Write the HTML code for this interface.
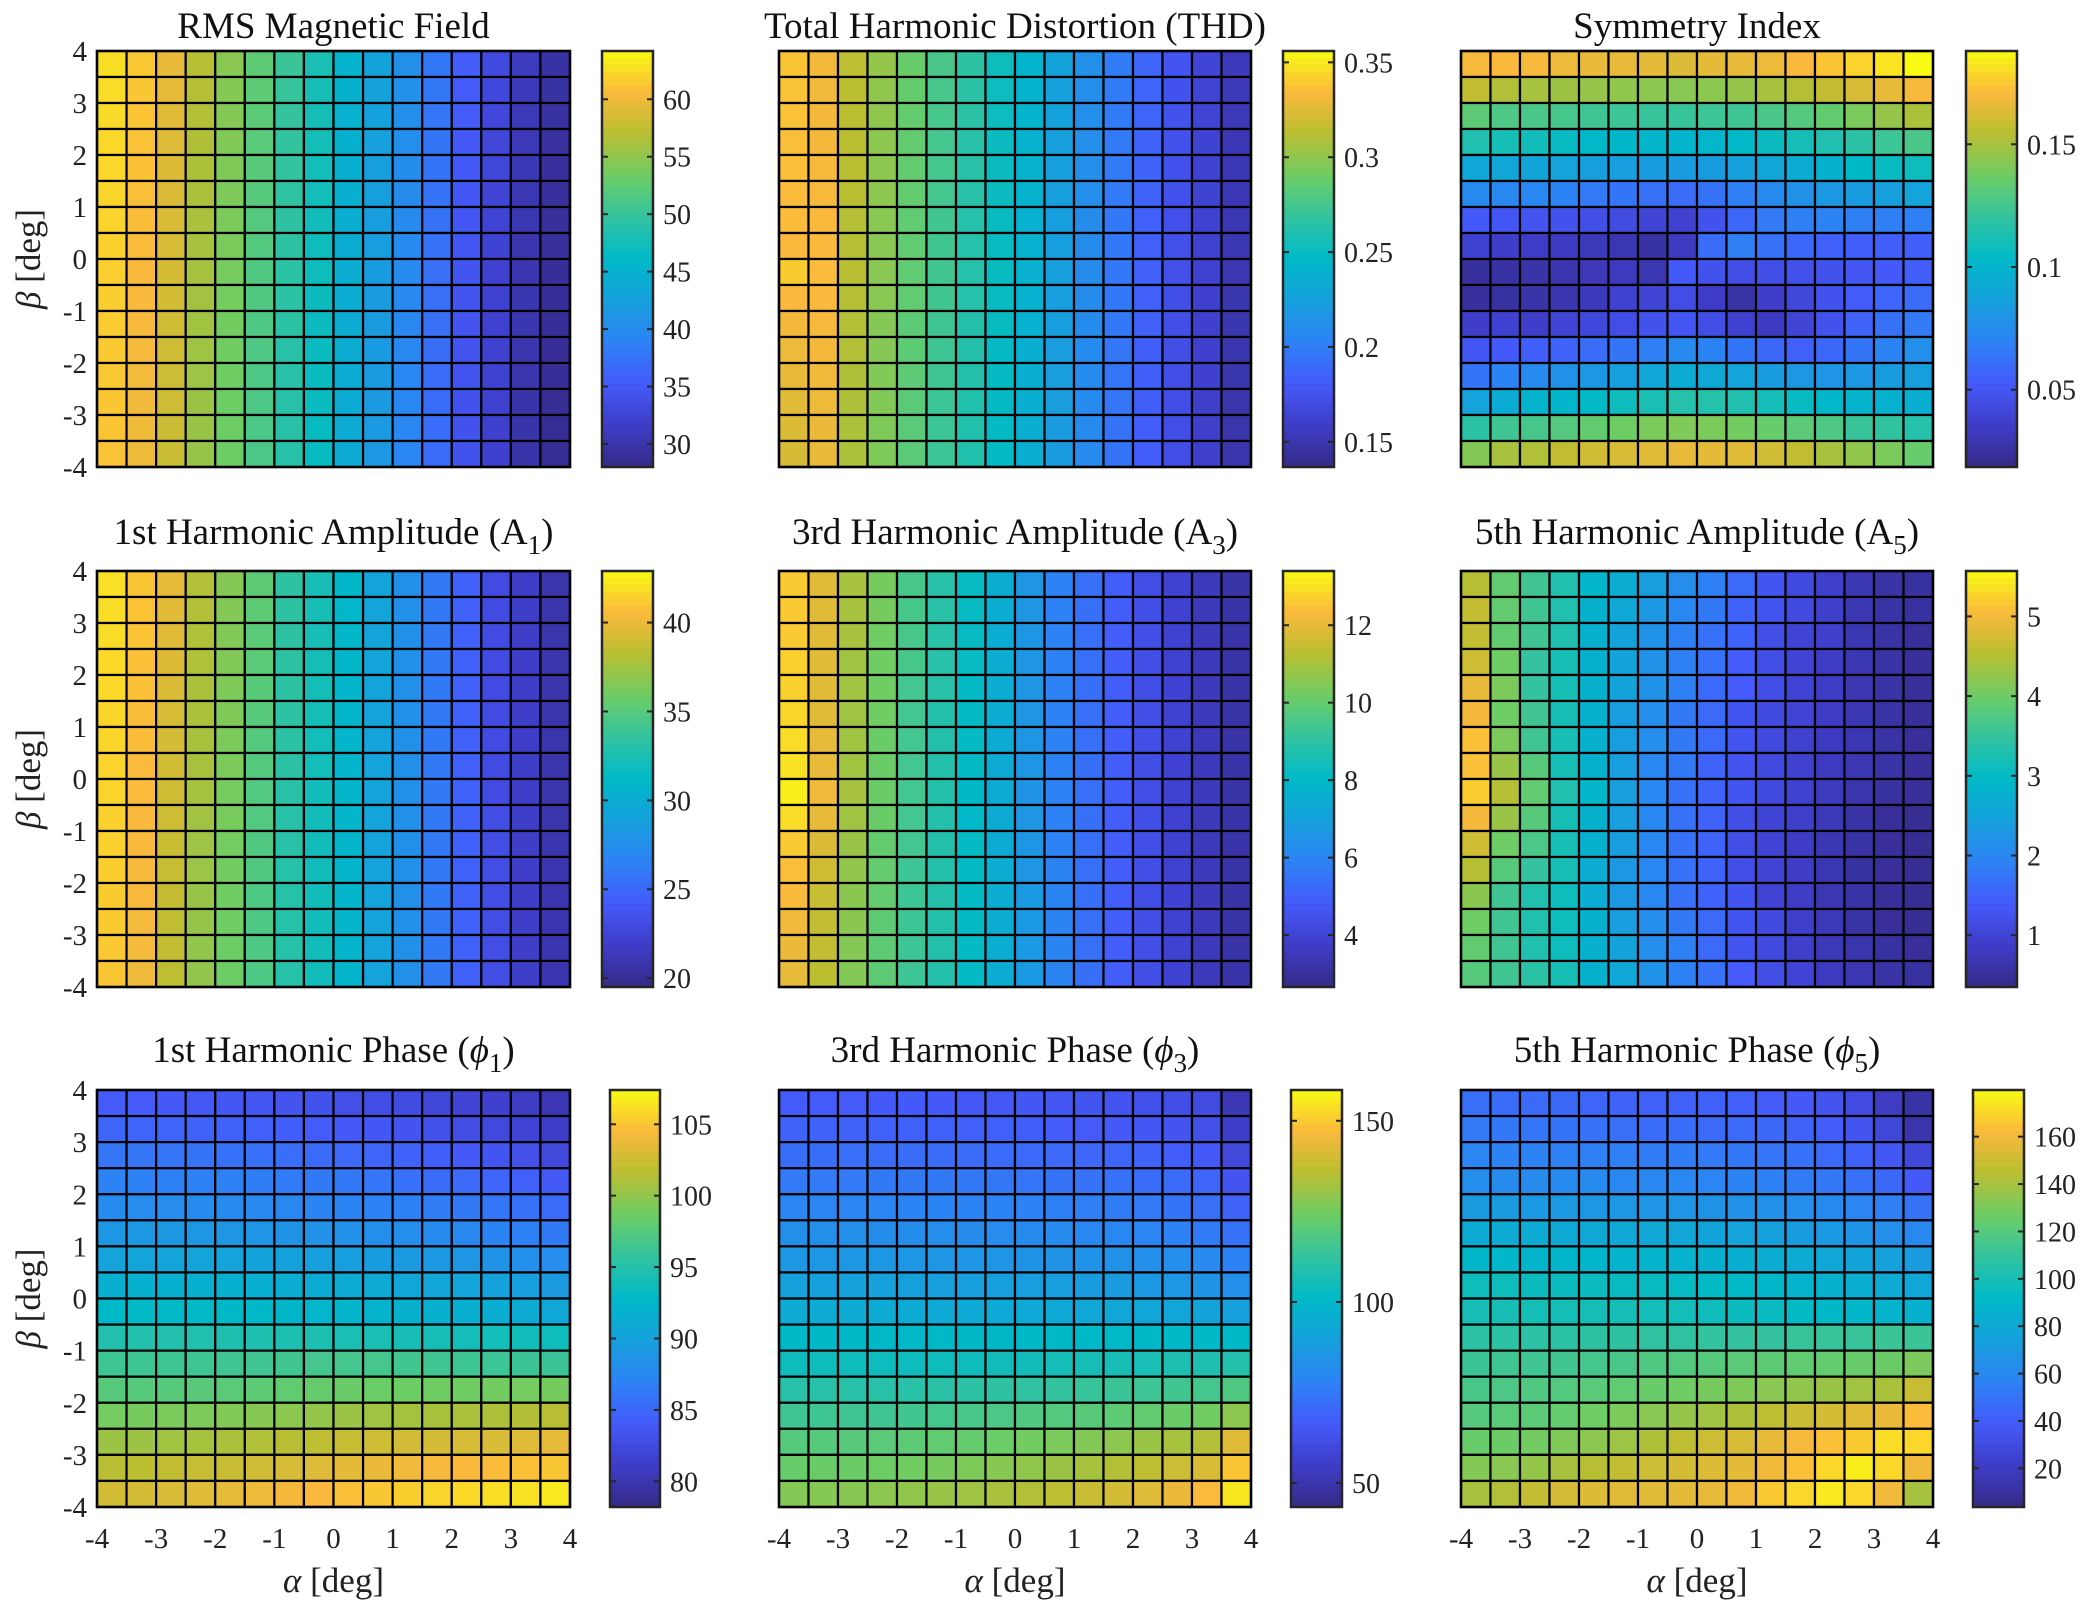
<!DOCTYPE html>
<html><head><meta charset="utf-8"><style>
html,body{margin:0;padding:0;background:#fff;}
svg{display:block;font-family:"Liberation Serif","DejaVu Serif",serif;}
</style></head><body>
<svg id="fig" width="2092" height="1610" viewBox="0 0 2092 1610" xmlns="http://www.w3.org/2000/svg"></svg>
<script>
const alphaTicks=[-4,-3,-2,-1,0,1,2,3,4];
const betaTicks=[4,3,2,1,0,-1,-2,-3,-4];
const rmsData=[
[62.6,61.4,59.6,56.8,54.6,52.4,50.2,48.0,45.2,42.8,40.6,38.0,35.4,33.2,31.0,29.6],
[62.5,61.3,59.4,56.7,54.5,52.3,50.0,47.8,45.0,42.7,40.5,37.9,35.3,33.0,30.9,29.5],
[62.4,61.2,59.2,56.6,54.4,52.2,49.9,47.7,44.9,42.6,40.4,37.8,35.2,32.9,30.8,29.4],
[62.3,61.1,59.0,56.5,54.3,52.1,49.8,47.6,44.8,42.5,40.3,37.7,35.1,32.8,30.7,29.3],
[62.2,61.0,58.9,56.4,54.2,52.0,49.7,47.5,44.7,42.4,40.2,37.6,35.0,32.7,30.6,29.2],
[62.1,60.9,58.8,56.3,54.1,51.9,49.6,47.4,44.6,42.3,40.1,37.5,34.9,32.6,30.5,29.2],
[62.0,60.8,58.7,56.2,54.0,51.8,49.5,47.3,44.5,42.2,40.0,37.4,34.8,32.5,30.4,29.1],
[61.9,60.7,58.6,56.1,53.9,51.7,49.4,47.2,44.4,42.1,39.9,37.3,34.7,32.4,30.3,29.1],
[61.8,60.6,58.5,56.0,53.8,51.6,49.3,47.1,44.3,42.0,39.8,37.2,34.6,32.3,30.3,29.0],
[61.7,60.5,58.4,55.9,53.7,51.5,49.2,47.0,44.3,41.9,39.7,37.1,34.5,32.3,30.2,29.0],
[61.6,60.4,58.3,55.8,53.6,51.4,49.2,46.9,44.2,41.9,39.6,37.1,34.5,32.2,30.2,28.9],
[61.5,60.3,58.2,55.7,53.5,51.4,49.1,46.9,44.2,41.8,39.6,37.0,34.4,32.2,30.1,28.9],
[61.4,60.2,58.1,55.6,53.4,51.3,49.1,46.8,44.1,41.8,39.5,37.0,34.4,32.1,30.1,28.9],
[61.3,60.1,58.0,55.5,53.3,51.3,49.0,46.8,44.1,41.7,39.5,36.9,34.3,32.1,30.0,28.8],
[61.2,60.0,57.9,55.4,53.3,51.2,49.0,46.7,44.0,41.7,39.4,36.9,34.3,32.0,30.0,28.8],
[61.1,59.9,57.8,55.3,53.2,51.2,48.9,46.7,44.0,41.6,39.4,36.8,34.2,32.0,29.9,28.7]];
const thdData=[
[0.338,0.332,0.314,0.301,0.288,0.277,0.266,0.253,0.242,0.226,0.213,0.200,0.187,0.176,0.165,0.154],
[0.337,0.331,0.313,0.300,0.287,0.276,0.265,0.252,0.241,0.225,0.212,0.199,0.186,0.175,0.164,0.153],
[0.337,0.332,0.313,0.300,0.287,0.276,0.265,0.252,0.241,0.225,0.212,0.199,0.186,0.175,0.164,0.153],
[0.336,0.332,0.312,0.299,0.286,0.275,0.264,0.251,0.240,0.224,0.211,0.198,0.185,0.174,0.163,0.152],
[0.336,0.333,0.312,0.299,0.286,0.275,0.264,0.251,0.240,0.224,0.211,0.198,0.185,0.174,0.163,0.152],
[0.335,0.333,0.312,0.299,0.286,0.275,0.264,0.251,0.240,0.224,0.211,0.198,0.185,0.174,0.163,0.152],
[0.335,0.334,0.311,0.298,0.285,0.274,0.263,0.250,0.239,0.223,0.210,0.197,0.184,0.173,0.162,0.151],
[0.334,0.334,0.311,0.298,0.285,0.274,0.263,0.250,0.239,0.223,0.210,0.197,0.184,0.173,0.162,0.151],
[0.340,0.335,0.312,0.298,0.285,0.274,0.263,0.250,0.239,0.223,0.210,0.197,0.184,0.173,0.162,0.151],
[0.334,0.334,0.311,0.298,0.285,0.274,0.263,0.250,0.239,0.223,0.210,0.197,0.184,0.172,0.161,0.150],
[0.332,0.333,0.310,0.297,0.284,0.273,0.262,0.250,0.239,0.223,0.210,0.197,0.184,0.172,0.161,0.150],
[0.330,0.332,0.310,0.297,0.284,0.273,0.262,0.249,0.238,0.222,0.209,0.196,0.183,0.172,0.161,0.150],
[0.328,0.331,0.309,0.296,0.284,0.273,0.262,0.249,0.238,0.222,0.209,0.196,0.183,0.172,0.161,0.150],
[0.326,0.330,0.309,0.296,0.283,0.272,0.261,0.249,0.238,0.222,0.209,0.196,0.183,0.171,0.160,0.149],
[0.324,0.329,0.308,0.295,0.283,0.272,0.261,0.248,0.237,0.221,0.208,0.195,0.182,0.171,0.160,0.149],
[0.322,0.328,0.308,0.295,0.283,0.272,0.261,0.248,0.237,0.221,0.208,0.195,0.182,0.171,0.160,0.149]];
const symData=[
[0.170,0.171,0.170,0.168,0.167,0.166,0.165,0.163,0.165,0.166,0.168,0.171,0.174,0.178,0.182,0.188],
[0.156,0.152,0.150,0.148,0.146,0.145,0.144,0.143,0.144,0.146,0.150,0.153,0.157,0.162,0.166,0.170],
[0.132,0.128,0.127,0.126,0.124,0.123,0.122,0.122,0.123,0.124,0.127,0.130,0.134,0.140,0.146,0.151],
[0.114,0.111,0.109,0.106,0.103,0.102,0.101,0.100,0.101,0.103,0.107,0.110,0.114,0.118,0.123,0.127],
[0.091,0.090,0.089,0.088,0.086,0.085,0.084,0.083,0.084,0.087,0.090,0.094,0.098,0.103,0.106,0.108],
[0.074,0.073,0.072,0.070,0.066,0.064,0.062,0.060,0.063,0.068,0.074,0.078,0.082,0.084,0.086,0.088],
[0.052,0.050,0.049,0.048,0.046,0.044,0.040,0.038,0.048,0.058,0.066,0.068,0.070,0.068,0.068,0.068],
[0.038,0.036,0.035,0.034,0.032,0.030,0.026,0.034,0.060,0.068,0.062,0.058,0.055,0.054,0.054,0.054],
[0.024,0.026,0.027,0.029,0.031,0.033,0.030,0.052,0.048,0.045,0.046,0.047,0.048,0.050,0.052,0.054],
[0.024,0.025,0.027,0.029,0.032,0.038,0.040,0.045,0.035,0.027,0.036,0.042,0.048,0.053,0.057,0.060],
[0.036,0.038,0.036,0.040,0.042,0.045,0.048,0.050,0.045,0.038,0.034,0.040,0.048,0.056,0.062,0.066],
[0.050,0.052,0.054,0.056,0.060,0.064,0.068,0.074,0.070,0.064,0.058,0.055,0.058,0.064,0.070,0.076],
[0.064,0.070,0.074,0.078,0.082,0.086,0.090,0.094,0.092,0.088,0.084,0.082,0.080,0.082,0.084,0.086],
[0.088,0.094,0.099,0.101,0.104,0.108,0.112,0.116,0.116,0.114,0.110,0.106,0.102,0.099,0.097,0.096],
[0.118,0.124,0.126,0.130,0.134,0.137,0.140,0.141,0.140,0.138,0.135,0.132,0.128,0.122,0.120,0.116],
[0.142,0.150,0.152,0.156,0.160,0.162,0.164,0.166,0.165,0.164,0.160,0.156,0.150,0.145,0.140,0.135]];
const a1Data=[
[41.9,41.0,39.8,38.0,36.6,35.2,33.4,32.3,31.0,29.2,27.6,26.0,24.5,23.0,21.8,20.8],
[41.8,40.9,39.7,38.0,36.6,35.2,33.4,32.3,31.0,29.2,27.6,26.0,24.5,23.0,21.8,20.8],
[41.8,40.9,39.6,37.9,36.5,35.1,33.4,32.3,31.0,29.2,27.6,26.0,24.5,23.0,21.8,20.8],
[41.7,40.8,39.5,37.9,36.5,35.1,33.3,32.2,31.0,29.2,27.6,26.0,24.5,23.0,21.8,20.8],
[41.7,40.8,39.4,37.8,36.4,35.0,33.3,32.2,30.9,29.2,27.6,26.0,24.5,23.0,21.8,20.8],
[41.6,40.7,39.3,37.8,36.4,35.0,33.3,32.2,30.9,29.1,27.6,26.0,24.5,23.0,21.8,20.8],
[41.6,40.7,39.2,37.7,36.3,34.9,33.2,32.1,30.9,29.1,27.6,26.0,24.5,23.0,21.8,20.8],
[41.5,40.6,39.1,37.7,36.3,34.9,33.2,32.1,30.8,29.1,27.6,26.0,24.5,23.0,21.8,20.8],
[41.5,40.6,39.0,37.6,36.2,34.8,33.1,32.0,30.8,29.1,27.6,26.0,24.6,23.0,21.8,20.8],
[41.4,40.5,38.9,37.5,36.2,34.8,33.1,32.0,30.8,29.1,27.6,26.0,24.6,23.1,21.8,20.8],
[41.4,40.5,38.8,37.4,36.1,34.7,33.1,32.0,30.8,29.1,27.6,26.0,24.6,23.1,21.9,20.9],
[41.3,40.4,38.7,37.3,36.0,34.7,33.0,32.0,30.8,29.1,27.6,26.0,24.6,23.1,21.9,20.9],
[41.2,40.4,38.6,37.2,35.9,34.6,33.0,32.0,30.8,29.1,27.6,26.0,24.6,23.1,21.9,20.9],
[41.2,40.3,38.5,37.1,35.9,34.6,33.0,32.0,30.8,29.1,27.6,26.0,24.6,23.1,21.9,20.9],
[41.1,40.3,38.5,37.0,35.8,34.6,33.0,32.0,30.8,29.1,27.6,26.0,24.6,23.1,21.9,20.9],
[41.0,40.2,38.4,37.0,35.8,34.6,33.0,32.0,30.8,29.1,27.6,26.0,24.6,23.1,21.9,20.9]];
const a3Data=[
[12.6,11.9,11.0,10.3,9.5,8.9,8.2,7.5,6.6,5.9,5.4,4.9,4.4,3.9,3.5,3.2],
[12.6,11.9,11.0,10.3,9.5,8.9,8.2,7.5,6.6,5.9,5.4,4.9,4.4,3.9,3.5,3.2],
[12.6,11.9,11.0,10.2,9.5,8.9,8.2,7.5,6.6,5.9,5.4,4.9,4.4,3.9,3.5,3.2],
[12.7,11.9,10.9,10.2,9.5,8.9,8.2,7.5,6.6,5.9,5.4,4.9,4.4,3.9,3.5,3.2],
[12.7,11.9,10.9,10.2,9.4,8.9,8.1,7.5,6.6,5.9,5.4,4.9,4.4,3.9,3.5,3.2],
[12.8,11.9,10.9,10.2,9.4,8.8,8.1,7.5,6.6,5.9,5.4,4.9,4.4,3.9,3.5,3.2],
[12.9,12.0,10.9,10.1,9.4,8.8,8.1,7.4,6.6,5.9,5.4,4.9,4.4,3.9,3.5,3.2],
[13.0,12.0,10.9,10.1,9.4,8.8,8.1,7.4,6.6,5.9,5.4,4.9,4.4,3.9,3.5,3.2],
[13.2,12.2,11.0,10.1,9.4,8.8,8.0,7.4,6.5,5.9,5.4,4.9,4.4,3.9,3.5,3.2],
[12.9,12.0,10.9,10.1,9.4,8.8,8.0,7.4,6.6,5.9,5.4,4.9,4.4,3.9,3.5,3.2],
[12.6,11.8,10.8,10.0,9.4,8.8,8.1,7.4,6.6,5.9,5.4,4.9,4.4,3.9,3.5,3.2],
[12.4,11.6,10.7,10.0,9.3,8.8,8.1,7.5,6.6,6.0,5.4,4.9,4.4,3.9,3.5,3.2],
[12.3,11.5,10.6,10.0,9.3,8.8,8.1,7.5,6.7,6.0,5.4,4.9,4.4,3.9,3.5,3.2],
[12.2,11.4,10.6,9.9,9.3,8.8,8.1,7.5,6.7,6.0,5.4,4.9,4.4,3.9,3.5,3.2],
[12.1,11.4,10.5,9.9,9.3,8.8,8.1,7.5,6.7,6.0,5.4,4.9,4.4,3.9,3.5,3.2],
[12.0,11.3,10.5,9.9,9.3,8.8,8.1,7.5,6.7,6.0,5.4,4.9,4.4,3.9,3.5,3.2]];
const a5Data=[
[4.5,3.9,3.6,3.3,2.9,2.7,2.4,2.1,1.9,1.6,1.3,1.1,0.9,0.7,0.6,0.55],
[4.6,3.9,3.6,3.3,2.8,2.6,2.3,2.0,1.8,1.5,1.3,1.1,0.9,0.7,0.6,0.55],
[4.6,3.9,3.6,3.3,2.8,2.5,2.2,1.9,1.7,1.5,1.2,1.0,0.9,0.7,0.6,0.5],
[4.7,4.0,3.5,3.2,2.8,2.5,2.2,1.9,1.7,1.4,1.2,1.0,0.85,0.7,0.6,0.5],
[4.9,4.1,3.5,3.2,2.8,2.5,2.2,1.9,1.6,1.4,1.2,1.0,0.85,0.7,0.6,0.5],
[5.0,4.0,3.6,3.2,2.8,2.4,2.1,1.8,1.6,1.3,1.1,1.0,0.85,0.7,0.6,0.5],
[5.1,4.1,3.6,3.2,2.8,2.4,2.1,1.8,1.6,1.3,1.1,0.95,0.8,0.7,0.6,0.5],
[5.1,4.3,3.8,3.2,2.8,2.4,2.0,1.8,1.5,1.3,1.1,0.95,0.8,0.7,0.6,0.5],
[5.2,4.5,3.9,3.3,2.9,2.4,2.0,1.7,1.5,1.3,1.1,0.95,0.8,0.65,0.55,0.5],
[5.0,4.3,3.8,3.2,2.8,2.4,2.0,1.7,1.5,1.2,1.0,0.9,0.75,0.6,0.5,0.45],
[4.7,4.0,3.7,3.2,2.8,2.4,2.0,1.7,1.5,1.2,1.0,0.85,0.7,0.6,0.5,0.45],
[4.5,3.8,3.5,3.2,2.7,2.3,2.0,1.7,1.5,1.2,1.0,0.85,0.7,0.55,0.5,0.45],
[4.2,3.6,3.3,3.1,2.7,2.3,2.0,1.7,1.5,1.3,1.0,0.85,0.7,0.6,0.5,0.45],
[4.0,3.6,3.3,3.1,2.8,2.4,2.1,1.8,1.6,1.3,1.1,0.9,0.75,0.6,0.5,0.45],
[3.9,3.6,3.3,3.1,2.8,2.5,2.1,1.9,1.6,1.3,1.1,0.9,0.75,0.65,0.55,0.5],
[3.8,3.6,3.4,3.2,2.8,2.6,2.2,1.9,1.7,1.4,1.2,1.0,0.8,0.7,0.6,0.55]];
const phi1Data=[
[84.0,84.0,83.9,83.8,83.7,83.6,83.4,83.2,83.0,82.8,82.5,82.2,81.8,81.4,80.9,80.2],
[84.9,84.9,84.8,84.7,84.6,84.5,84.3,84.1,83.9,83.7,83.4,83.1,82.7,82.3,81.8,81.1],
[86.1,86.1,86.0,85.9,85.8,85.7,85.5,85.3,85.1,84.9,84.6,84.3,83.9,83.5,83.0,82.3],
[87.0,87.0,86.9,86.8,86.8,86.7,86.5,86.3,86.2,86.0,85.7,85.4,85.1,84.8,84.4,83.8],
[87.8,87.9,87.9,87.8,87.7,87.6,87.5,87.3,87.2,87.0,86.8,86.6,86.3,86.0,85.7,85.2],
[89.0,89.1,89.1,89.0,88.9,88.8,88.7,88.5,88.4,88.2,88.0,87.8,87.5,87.2,86.9,86.4],
[90.2,90.3,90.3,90.3,90.2,90.1,90.0,89.8,89.7,89.5,89.3,89.1,88.9,88.6,88.3,87.9],
[91.6,91.7,91.8,91.8,91.7,91.6,91.4,91.2,91.1,90.9,90.7,90.5,90.3,90.0,89.7,89.3],
[92.8,92.9,92.9,92.9,92.8,92.7,92.5,92.4,92.3,92.1,91.9,91.8,91.6,91.4,91.1,90.8],
[94.8,94.8,94.8,94.7,94.6,94.6,94.5,94.5,94.4,94.3,94.2,94.1,94.0,93.9,93.8,93.7],
[96.3,96.3,96.3,96.3,96.4,96.4,96.5,96.6,96.6,96.6,96.5,96.4,96.3,96.2,96.1,96.1],
[97.5,97.5,97.5,97.6,97.7,97.8,98.0,98.2,98.4,98.5,98.6,98.7,98.7,98.8,98.9,99.0],
[98.9,99.0,99.1,99.2,99.4,99.6,99.8,100.1,100.4,100.6,100.8,100.9,101.0,101.1,101.3,101.5],
[100.4,100.5,100.6,100.8,101.0,101.2,101.5,101.8,102.1,102.4,102.6,102.8,102.9,103.0,103.2,103.6],
[101.6,101.7,101.9,102.1,102.3,102.6,102.9,103.2,103.5,103.8,104.1,104.3,104.5,104.6,104.8,105.1],
[102.7,102.8,103.0,103.3,103.6,103.9,104.2,104.5,104.8,105.1,105.4,105.7,105.9,106.1,106.3,106.6]];
const phi3Data=[
[66.4,66.4,66.3,66.2,66.1,66.0,65.8,65.5,65.2,64.9,64.4,63.8,63.0,62.0,60.5,51.5],
[68.7,68.7,68.6,68.5,68.4,68.3,68.1,67.8,67.5,67.1,66.6,66.0,65.2,64.0,62.3,55.0],
[72.2,72.2,72.1,72.0,71.9,71.8,71.6,71.3,71.0,70.6,70.1,69.5,68.6,67.4,65.8,59.5],
[75.6,75.6,75.5,75.4,75.3,75.2,75.0,74.7,74.4,74.0,73.5,72.9,72.0,70.8,69.2,64.1],
[79.1,79.1,79.0,78.9,78.8,78.7,78.5,78.2,77.9,77.5,77.0,76.4,75.5,74.3,72.7,68.7],
[82.5,82.5,82.4,82.3,82.2,82.1,81.9,81.6,81.3,80.9,80.4,79.8,79.0,77.9,76.3,73.3],
[86.0,86.0,85.9,85.8,85.7,85.6,85.4,85.2,84.9,84.6,84.2,83.7,83.0,82.0,80.6,78.0],
[89.4,89.4,89.4,89.3,89.2,89.1,89.0,88.8,88.6,88.3,88.0,87.5,86.9,86.0,84.8,82.5],
[94.0,94.0,94.0,93.9,93.9,93.8,93.7,93.6,93.4,93.2,93.0,92.7,92.3,91.7,90.9,89.4],
[101.0,100.9,100.8,100.7,100.6,100.6,100.6,100.7,100.8,100.9,101.0,101.0,101.0,101.0,101.0,101.0],
[104.4,104.3,104.2,104.2,104.2,104.3,104.5,104.8,105.2,105.6,106.0,106.4,106.8,107.3,107.8,109.0],
[110.2,110.1,110.1,110.2,110.4,110.7,111.1,111.6,112.2,112.8,113.4,114.0,114.6,115.3,116.0,118.2],
[114.8,114.8,114.9,115.1,115.5,116.0,116.6,117.4,118.2,119.0,119.9,120.8,121.8,123.0,124.5,128.6],
[119.4,119.5,119.7,120.1,120.7,121.4,122.3,123.4,124.6,125.9,127.3,128.8,130.5,132.5,134.6,142.4],
[122.8,123.0,123.3,123.8,124.5,125.4,126.5,127.8,129.3,130.9,132.6,134.4,136.4,138.6,141.0,149.3],
[127.4,127.6,128.0,128.6,129.4,130.4,131.6,133.0,134.6,136.3,138.1,140.0,142.1,144.5,147.2,155.0]];
const phi5Data=[
[48,47,46,45,44,43,42,42,42,41,40,38,35,30,20,12],
[53,52,51,50,49,48,47,47,46,46,45,43,40,35,27,14],
[58,57,57,56,55,55,54,54,53,52,51,49,46,42,37,28],
[63,62,62,61,61,60,60,59,58,57,56,54,52,49,45,38],
[71,71,70,70,69,69,68,68,67,66,65,63,61,58,55,50],
[82,81,81,80,80,79,79,78,77,76,74,72,70,67,64,60],
[90,90,89,89,89,88,88,87,86,85,83,81,79,77,74,71],
[97,97,96,96,96,95,95,94,93,92,90,88,86,84,81,78],
[100,100,99,99,99,99,98,98,97,96,95,93,91,90,88,86],
[107,107,107,107,108,108,109,109,110,110,110,111,111,111,112,112],
[112,113,113,114,115,116,118,119,120,121,122,123,124,125,126,130],
[116,117,118,119,121,123,125,127,129,131,133,135,137,139,141,148],
[120,121,122,124,127,130,133,136,139,142,146,149,152,155,158,163],
[125,126,128,131,134,138,142,146,150,153,157,161,164,167,172,170],
[132,133,136,140,144,147,150,152,154,156,160,164,170,176,170,160],
[140,143,147,152,154,155,155,156,157,160,166,170,175,170,160,140]];
const rmsTicks=[30,35,40,45,50,55,60];
const thdTicks=[0.15,0.2,0.25,0.3,0.35];
const symTicks=[0.05,0.1,0.15];
const a1Ticks=[20,25,30,35,40];
const a3Ticks=[4,6,8,10,12];
const a5Ticks=[1,2,3,4,5];
const phi1Ticks=[80,85,90,95,100,105];
const phi3Ticks=[50,100,150];
const phi5Ticks=[20,40,60,80,100,120,140,160];

const NS='http://www.w3.org/2000/svg';
const svg=document.getElementById('fig');
function mk(tag,attrs,parent){const e=document.createElementNS(NS,tag);for(const k in attrs)e.setAttribute(k,attrs[k]);(parent||svg).appendChild(e);return e;}
const stops=[[0,53,42,135],[0.1,62,61,200],[0.2,68,90,250],[0.3,45,130,245],[0.4,22,160,220],[0.5,0,185,200],[0.6,50,195,160],[0.7,110,205,100],[0.8,185,190,50],[0.9,250,185,60],[1,249,251,20]];
function parula(t){t=Math.max(0,Math.min(1,t));for(let i=1;i<stops.length;i++){if(t<=stops[i][0]){const a=stops[i-1],b=stops[i];const u=(t-a[0])/(b[0]-a[0]);return 'rgb('+[1,2,3].map(j=>Math.round(a[j]+(b[j]-a[j])*u)).join(',')+')';}}return 'rgb(249,251,20)';}

const colX=[[97,570],[779,1251],[1461,1933]];
const rowY=[[51,467],[571,987],[1090,1507]];
const cbX=[[[602,653],[1283,1334],[1966,2017]],[[602,653],[1283,1334],[1966,2017]],[[610,660],[1291,1342],[1973,2024]]];
const panels=[
{name:'rms',title:'RMS Magnetic Field',data:rmsData,ticks:rmsTicks,min:28.0,max:64.2,r:0,c:0},
{name:'thd',title:'Total Harmonic Distortion (THD)',data:thdData,ticks:thdTicks,min:0.1367,max:0.356,r:0,c:1},
{name:'symmetry',title:'Symmetry Index',data:symData,ticks:symTicks,min:0.0185,max:0.188,r:0,c:2},
{name:'a1',title:'1st Harmonic Amplitude (A|1|)',data:a1Data,ticks:a1Ticks,min:19.5,max:42.9,r:1,c:0},
{name:'a3',title:'3rd Harmonic Amplitude (A|3|)',data:a3Data,ticks:a3Ticks,min:2.66,max:13.4,r:1,c:1},
{name:'a5',title:'5th Harmonic Amplitude (A|5|)',data:a5Data,ticks:a5Ticks,min:0.35,max:5.57,r:1,c:2},
{name:'phi1',title:'1st Harmonic Phase (#ϕ#|1|)',data:phi1Data,ticks:phi1Ticks,min:78.2,max:107.4,r:2,c:0},
{name:'phi3',title:'3rd Harmonic Phase (#ϕ#|3|)',data:phi3Data,ticks:phi3Ticks,min:43.4,max:158.5,r:2,c:1},
{name:'phi5',title:'5th Harmonic Phase (#ϕ#|5|)',data:phi5Data,ticks:phi5Ticks,min:3.7,max:179.7,r:2,c:2}];

function addTitle(g,str,x,y){
  const t=mk('text',{x:x,y:y,'text-anchor':'middle','font-size':37,fill:'#111'},g);
  
  
  const parts=str.split(/(\|[^|]*\||#[^#]*#)/).filter(s=>s.length);
  let shifted=false;
  parts.forEach(p=>{
    const ts=document.createElementNS(NS,'tspan');
    if(p[0]==='|'){ts.textContent=p.slice(1,-1);ts.setAttribute('dy','10');ts.setAttribute('font-size','27');shifted=true;}
    else if(p[0]==='#'){ts.textContent=p.slice(1,-1);ts.setAttribute('font-style','italic');}
    else{ts.textContent=p;if(shifted){ts.setAttribute('dy','-10');shifted=false;}}
    t.appendChild(ts);
  });
}

panels.forEach(p=>{
  const [x0,x1]=colX[p.c],[y0,y1]=rowY[p.r];
  const g=mk('g',{});
  
  
  const xs=v=>x0+(v+4)/8*(x1-x0);
  const ys=v=>y0+(4-v)/8*(y1-y0);
  const n=p.data.length, m=p.data[0].length;
  const step=8/m, stepY=8/n;
  for(let i=0;i<n;i++){for(let j=0;j<m;j++){
    const a=-4+j*step, b=4-i*stepY;
    const r=mk('rect',{x:xs(a),y:ys(b),width:xs(a+step)-xs(a),height:ys(b-stepY)-ys(b),fill:parula((p.data[i][j]-p.min)/(p.max-p.min)),stroke:'#000','stroke-width':2.2},g);
    
    
  }}
  const fr=mk('rect',{x:x0,y:y0,width:x1-x0,height:y1-y0,fill:'none',stroke:'#000','stroke-width':2.5},g);
  
  
  addTitle(g,p.title,(x0+x1)/2,[38,544,1062][p.r]);
  if(p.c===0){
    betaTicks.forEach(v=>{
      const t=mk('text',{x:x0-10,y:ys(v)+10,'text-anchor':'end','font-size':29,fill:'#222'},g);
      t.textContent=String(v);
      
      
    });
    const cy=(y0+y1)/2;
    const yl=mk('text',{x:0,y:0,transform:'translate(40,'+cy+') rotate(-90)','text-anchor':'middle','font-size':35,fill:'#222'},g);
    
    
    const s1=document.createElementNS(NS,'tspan');s1.setAttribute('font-style','italic');s1.textContent='β';yl.appendChild(s1);
    const s2=document.createElementNS(NS,'tspan');s2.textContent=' [deg]';yl.appendChild(s2);
  }
  if(p.r===2){
    alphaTicks.forEach(v=>{
      const t=mk('text',{x:xs(v),y:y1+41,'text-anchor':'middle','font-size':29,fill:'#222'},g);
      t.textContent=String(v);
      
      
    });
    const xl=mk('text',{x:(x0+x1)/2,y:y1+85,'text-anchor':'middle','font-size':35,fill:'#222'},g);
    
    
    const s1=document.createElementNS(NS,'tspan');s1.setAttribute('font-style','italic');s1.textContent='α';xl.appendChild(s1);
    const s2=document.createElementNS(NS,'tspan');s2.textContent=' [deg]';xl.appendChild(s2);
  }
  const [cx0,cx1]=cbX[p.r][p.c];
  const cb=mk('g',{});
  
  
  const N=60,h=(y1-y0)/N;
  for(let k=0;k<N;k++){
    mk('rect',{x:cx0,y:y0+k*h,width:cx1-cx0,height:h+0.8,fill:parula(1-(k+0.5)/N)},cb);
  }
  mk('rect',{x:cx0,y:y0,width:cx1-cx0,height:y1-y0,fill:'none',stroke:'#262626','stroke-width':2.5},cb);
  const cs=v=>y1-(v-p.min)/(p.max-p.min)*(y1-y0);
  p.ticks.forEach(v=>{
    const yy=cs(v);
    mk('line',{x1:cx1-6,x2:cx1,y1:yy,y2:yy,stroke:'#262626','stroke-width':2},cb);
    mk('line',{x1:cx0,x2:cx0+6,y1:yy,y2:yy,stroke:'#262626','stroke-width':2},cb);
    const t=mk('text',{x:cx1+10,y:yy+10,'font-size':28,fill:'#222'},cb);
    t.textContent=String(v);
    
    
  });
});
</script>
</body></html>
